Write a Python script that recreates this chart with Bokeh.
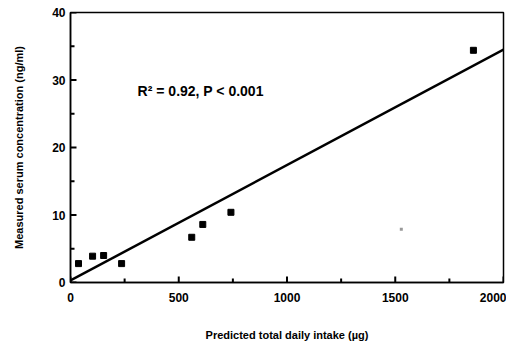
from bokeh.plotting import figure
from bokeh.models import Range1d, FixedTicker, ColumnDataSource
from bokeh.embed import file_html
from bokeh.resources import INLINE
from bokeh.core.properties import value

# data
obs_x = [37, 102, 153, 236, 560, 611, 741, 1861]
obs_y = [2.8, 3.9, 4.0, 2.8, 6.7, 8.6, 10.4, 34.4]
faint_x = [1528]
faint_y = [7.9]
fit_x = [0, 2000]
fit_y = [0.3, 34.5]
x_ticks = [0, 500, 1000, 1500, 2000]
y_ticks = [0, 10, 20, 30, 40]
x_minor = [250, 750, 1250, 1750]
y_minor = [5, 15, 25, 35]
annot = "R² = 0.92, P < 0.001"
x_label = "Predicted total daily intake (µg)"
y_label = "Measured serum concentration (ng/ml)"

FONT = "Liberation Sans"

p = figure(width=506, height=336, output_backend="svg", toolbar_location=None,
           x_range=Range1d(0, 2000), y_range=Range1d(0, 40),
           min_border_left=70, min_border_right=3, min_border_top=12, min_border_bottom=54)
p.frame_width = 433
p.frame_height = 270

p.grid.visible = False
p.outline_line_color = "black"
p.outline_line_width = 1.5

p.xaxis.ticker = FixedTicker(ticks=x_ticks, minor_ticks=[])
p.yaxis.ticker = FixedTicker(ticks=y_ticks, minor_ticks=[])
for ax in (p.xaxis[0], p.yaxis[0]):
    ax.axis_line_color = "black"
    ax.axis_line_width = 1.5
    ax.major_tick_in = 0
    ax.major_tick_out = 0
    ax.minor_tick_in = 0
    ax.minor_tick_out = 0
    ax.major_label_text_font = FONT
    ax.major_label_text_font_style = "bold"
    ax.major_label_text_font_size = "12px"
    ax.major_label_text_color = "black"
    ax.axis_label_text_font = FONT
    ax.axis_label_text_font_style = "bold"
    ax.axis_label_text_font_size = "11px"
    ax.axis_label_text_color = "black"

p.xaxis.axis_label = x_label
p.yaxis.axis_label = y_label
p.xaxis.major_label_standoff = 10
p.yaxis.major_label_standoff = 5
p.xaxis.axis_label_standoff = 24
p.yaxis.axis_label_standoff = 24

# inward tick marks as thin screen-sized rectangles centred on the axes
p.rect(x=x_ticks, y=[0] * len(x_ticks), width=2, height=12,
       width_units="screen", height_units="screen", fill_color="black", line_color=None)
p.rect(x=x_minor, y=[0] * len(x_minor), width=2, height=8,
       width_units="screen", height_units="screen", fill_color="black", line_color=None)
p.rect(x=[0] * len(y_ticks), y=y_ticks, width=12, height=2,
       width_units="screen", height_units="screen", fill_color="black", line_color=None)
p.rect(x=[0] * len(y_minor), y=y_minor, width=8, height=2,
       width_units="screen", height_units="screen", fill_color="black", line_color=None)

p.line(fit_x, fit_y, line_color="black", line_width=2.5)
p.scatter(obs_x, obs_y, marker="square", size=6, fill_color="black", line_color="black")
p.scatter(faint_x, faint_y, marker="square", size=3, fill_color="#999999", line_color=None)

src = ColumnDataSource(dict(x=[310], y=[28.3], t=[annot]))
p.text(x="x", y="y", text="t", source=src, text_font=value(FONT), text_font_style="bold",
       text_font_size="14px", text_baseline="middle", text_align="left", text_color="black")

open("out.html", "w").write(file_html(p, INLINE))
